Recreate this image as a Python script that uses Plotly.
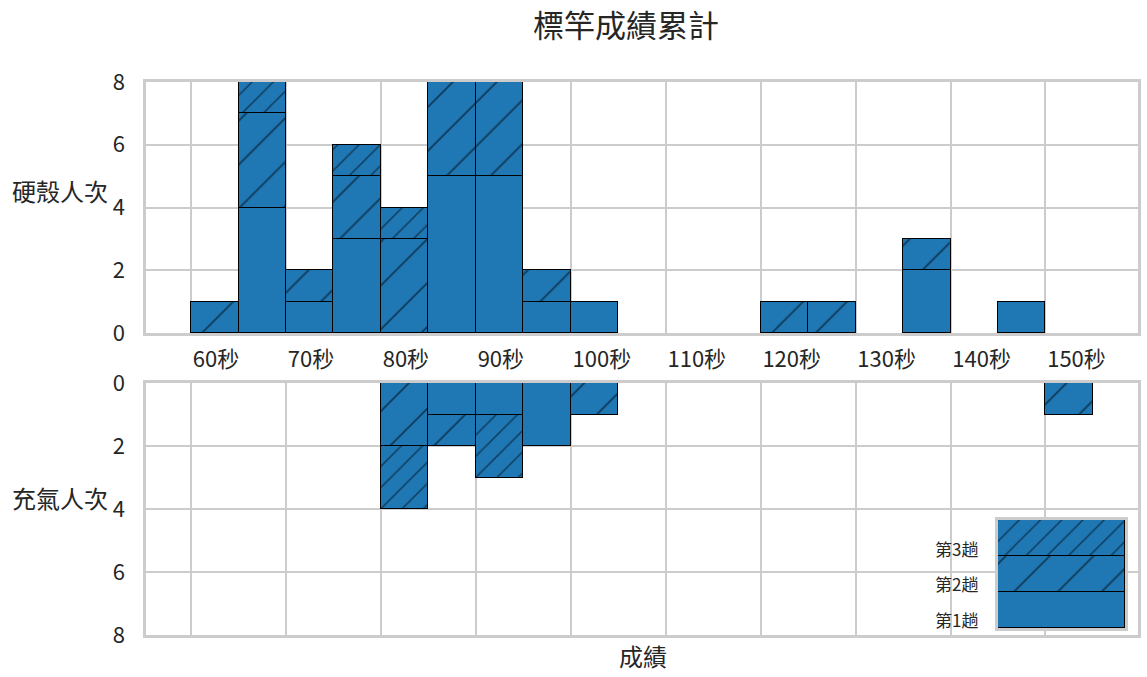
import plotly.graph_objects as go

# 5 second bins, left edges
bin_left = [60, 65, 70, 75, 80, 85, 90, 95, 100, 105, 110, 115, 120, 125, 130, 135, 140, 145, 150]
bin_width = 5

# hard shell counts per run (week)
hard_w1 = [0, 4, 1, 3, 0, 5, 5, 1, 1, 0, 0, 0, 0, 0, 0, 2, 0, 1, 0]
hard_w2 = [1, 3, 1, 2, 3, 3, 3, 1, 0, 0, 0, 0, 1, 1, 0, 1, 0, 0, 0]
hard_w3 = [0, 1, 0, 1, 1, 0, 0, 0, 0, 0, 0, 0, 0, 0, 0, 0, 0, 0, 0]

# inflatable counts per run
infl_w1 = [0, 0, 0, 0, 0, 1, 1, 2, 0, 0, 0, 0, 0, 0, 0, 0, 0, 0, 0]
infl_w2 = [0, 0, 0, 0, 2, 1, 0, 0, 1, 0, 0, 0, 0, 0, 0, 0, 0, 0, 1]
infl_w3 = [0, 0, 0, 0, 2, 0, 2, 0, 0, 0, 0, 0, 0, 0, 0, 0, 0, 0, 0]

run_names = ["第1趟", "第2趟", "第3趟"]
x_ticks = [60, 70, 80, 90, 100, 110, 120, 130, 140, 150]
x_ticktext = [f"{t}秒" for t in x_ticks]
y_ticks = [0, 2, 4, 6, 8]

BLUE = "#1f77b4"
GRID = "#cccccc"
TXT = "#262626"
FONT = "Noto Sans CJK TC"

patterns = [
    dict(shape=""),
    dict(shape="/", size=31, solidity=0.06, fgcolor="black", fillmode="overlay"),
    dict(shape="/", size=15, solidity=0.1, fgcolor="black", fillmode="overlay"),
]

centers = [b + bin_width / 2 for b in bin_left]

fig = go.Figure()


def add_stack(series, xa, ya):
    for name, vals, pat in zip(run_names, series, patterns):
        fig.add_trace(go.Bar(
            x=centers, y=[v if v else None for v in vals], width=bin_width,
            name=name, xaxis=xa, yaxis=ya, showlegend=False,
            marker=dict(color=BLUE, line=dict(color="black", width=1.3), pattern=pat),
        ))


add_stack([hard_w1, hard_w2, hard_w3], "x", "y")
add_stack([infl_w1, infl_w2, infl_w3], "x2", "y2")

# legend drawn as a small stacked patch
for name, pat in zip(run_names, patterns):
    fig.add_trace(go.Bar(
        x=[0], y=[1], width=1, name=name, xaxis="x3", yaxis="y3", showlegend=False,
        marker=dict(color=BLUE, line=dict(color="black", width=1.3), pattern=pat),
        hoverinfo="skip",
    ))

xr = [55.25, 159.75]
xdom = [146 / 1147, 1138 / 1147]
axis_common = dict(showline=True, linecolor=GRID, linewidth=2.5, mirror=True,
                   showgrid=True, gridcolor=GRID, gridwidth=1.5, zeroline=False,
                   automargin=False,
                   tickfont=dict(size=22, color=TXT, family=FONT))

fig.update_layout(
    width=1147, height=677,
    margin=dict(l=0, r=0, t=0, b=0),
    paper_bgcolor="white", plot_bgcolor="white",
    barmode="stack", bargap=0,
    font=dict(family=FONT, color=TXT),
    xaxis=dict(domain=xdom, range=xr, anchor="y", tickvals=x_ticks, ticktext=x_ticktext,
               ticklabelposition="outside right", ticklabelstandoff=5,
               ticks="outside", ticklen=7, tickcolor="rgba(0,0,0,0)", **axis_common),
    yaxis=dict(domain=[344 / 677, 595 / 677], range=[0, 8], anchor="x", tickvals=y_ticks,
               ticks="outside", ticklen=14, tickcolor="rgba(0,0,0,0)", **axis_common),
    xaxis2=dict(domain=xdom, range=xr, anchor="y2", tickvals=x_ticks, showticklabels=False,
                **axis_common),
    yaxis2=dict(domain=[42 / 677, 294 / 677], range=[8, 0], anchor="x2", tickvals=y_ticks,
                ticks="outside", ticklen=14, tickcolor="rgba(0,0,0,0)", **axis_common),
    xaxis3=dict(domain=[998 / 1147, 1125 / 1147], range=[-0.5, 0.5], anchor="y3",
                showticklabels=False, showgrid=False, zeroline=False, automargin=False,
                showline=True, linecolor=GRID, linewidth=3, mirror=True),
    yaxis3=dict(domain=[49 / 677, 157 / 677], range=[0, 3], anchor="x3",
                showticklabels=False, showgrid=False, zeroline=False, automargin=False,
                showline=True, linecolor=GRID, linewidth=3, mirror=True),
)

annotations = [
    dict(text="標竿成績累計", x=626 / 1147, y=1 - 23 / 677, xref="paper", yref="paper",
         yanchor="middle", showarrow=False, font=dict(size=31, color=TXT, family=FONT)),
    dict(text="硬殼人次", x=110 / 1147, y=1 - 191 / 677, xref="paper", yref="paper",
         xanchor="right", yanchor="middle", showarrow=False,
         font=dict(size=24, color=TXT, family=FONT)),
    dict(text="充氣人次", x=110 / 1147, y=1 - 497 / 677, xref="paper", yref="paper",
         xanchor="right", yanchor="middle", showarrow=False,
         font=dict(size=24, color=TXT, family=FONT)),
    dict(text="成績", x=643 / 1147, y=1 - 655 / 677, xref="paper", yref="paper",
         yanchor="middle", showarrow=False, font=dict(size=24, color=TXT, family=FONT)),
]
# legend labels, placed beside the patch segments
leg_y = [619, 583, 548]
for name, py in zip(run_names, leg_y):
    annotations.append(dict(text=name, x=980 / 1147, y=1 - py / 677, xref="paper", yref="paper",
                            xanchor="right", yanchor="middle", showarrow=False,
                            font=dict(size=17, color=TXT, family=FONT)))
fig.update_layout(annotations=annotations)

fig.write_html("out.html", config={"displayModeBar": False},
               post_script="document.body.style.margin='0';")
